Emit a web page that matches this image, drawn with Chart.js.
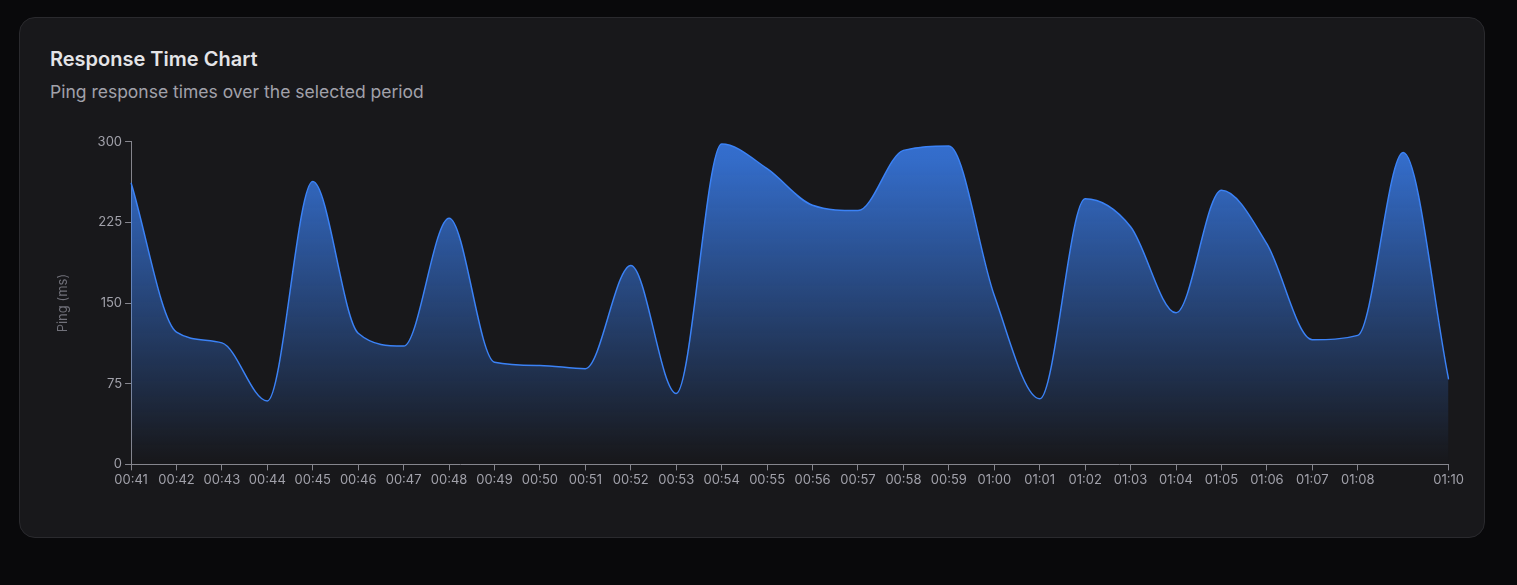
<!DOCTYPE html>
<html>
<head>
<meta charset="utf-8">
<script src="https://cdn.jsdelivr.net/npm/chart.js@4.4.1/dist/chart.umd.min.js"></script>
<style>
  html, body {
    margin: 0;
    padding: 0;
    background: #09090b;
    font-family: Inter, "Noto Sans", sans-serif;
  }
  .card {
    position: absolute;
    left: 19px;
    top: 17px;
    width: 1464px;
    height: 519px;
    background: #18181b;
    border: 1px solid #2a2a2e;
    border-radius: 16px;
  }
  .title {
    position: absolute;
    left: 30px;
    top: 28px;
    margin: 0;
    font-size: 20px;
    line-height: 26px;
    font-weight: 600;
    color: #e4e4e7;
  }
  .subtitle {
    position: absolute;
    left: 30px;
    top: 62px;
    margin: 0;
    font-size: 17.5px;
    line-height: 24px;
    color: #a1a1aa;
  }
  .chart-wrap {
    position: absolute;
    left: 35px;
    top: 113px;
    width: 1411px;
    height: 359px;
  }
</style>
</head>
<body>
<div class="card">
  <h3 class="title">Response Time Chart</h3>
  <p class="subtitle">Ping response times over the selected period</p>
  <div class="chart-wrap"><canvas id="pingChart"></canvas></div>
</div>
<script>
// Minute labels on the x axis
const timeLabels = [
    '00:41', '00:42', '00:43', '00:44', '00:45', '00:46', '00:47', '00:48', '00:49', '00:50',
    '00:51', '00:52', '00:53', '00:54', '00:55', '00:56', '00:57', '00:58', '00:59', '01:00',
    '01:01', '01:02', '01:03', '01:04', '01:05', '01:06', '01:07', '01:08', '01:09', '01:10'
];

// Ping in ms, one per minute
const pingValues = [
    262, 123, 113, 59, 263, 122, 110, 229, 95, 92,
    89, 185, 66, 298, 275, 241, 236, 292, 296, 157,
    61, 247, 221, 141, 255, 205, 116, 120, 290, 79
];

// Labels left out of the axis (no room before the last one)
const skippedLabels = ['01:09'];

// Y axis ticks
const yTicks = [0, 75, 150, 225, 300];

const AXIS_COLOR = '#85858d';
const TICK_TEXT = '#a1a1aa';
const LINE_COLOR = '#3b82f6';

function areaGradient(context) {
    const { ctx, chartArea } = context.chart;
    if (!chartArea) return 'rgba(59, 130, 246, 0.3)';
    const g = ctx.createLinearGradient(0, chartArea.top, 0, chartArea.bottom);
    g.addColorStop(0.0, 'rgba(59, 130, 246, 0.82)');
    g.addColorStop(0.05, 'rgba(59, 130, 246, 0.8)');
    g.addColorStop(0.95, 'rgba(59, 130, 246, 0.03)');
    g.addColorStop(1.0, 'rgba(59, 130, 246, 0)');
    return g;
}

const chart = new Chart(document.getElementById('pingChart').getContext('2d'), {
    type: 'line',
    data: {
        labels: timeLabels,
        datasets: [{
            label: 'Ping (ms)',
            data: pingValues,
            borderColor: LINE_COLOR,
            borderWidth: 1.5,
            pointRadius: 0,
            pointHoverRadius: 0,
            cubicInterpolationMode: 'monotone',
            fill: 'origin',
            backgroundColor: areaGradient
        }]
    },
    options: {
        animation: false,
        responsive: true,
        maintainAspectRatio: false,
        layout: {
            padding: { top: 2, right: 0, bottom: 0, left: 0 }
        },
        plugins: {
            legend: { display: false },
            tooltip: { enabled: false }
        },
        scales: {
            x: {
                type: 'category',
                offset: false,
                border: { display: true, color: AXIS_COLOR, width: 1 },
                grid: {
                    display: true,
                    drawOnChartArea: false,
                    drawTicks: true,
                    tickLength: 6,
                    color: AXIS_COLOR,
                    tickColor: ctx => skippedLabels.includes(timeLabels[ctx.index]) ? 'transparent' : AXIS_COLOR
                },
                ticks: {
                    autoSkip: false,
                    maxRotation: 0,
                    padding: 2,
                    color: TICK_TEXT,
                    font: { family: 'Inter', size: 13 },
                    callback: function (value, index) {
                        const label = timeLabels[index];
                        return skippedLabels.includes(label) ? '' : label;
                    }
                }
            },
            y: {
                min: 0,
                max: 300,
                afterBuildTicks: axis => {
                    axis.ticks = yTicks.map(v => ({ value: v }));
                },
                border: { display: true, color: AXIS_COLOR, width: 1 },
                grid: {
                    display: true,
                    drawOnChartArea: false,
                    drawTicks: true,
                    tickLength: 6,
                    color: AXIS_COLOR
                },
                ticks: {
                    padding: 3,
                    color: TICK_TEXT,
                    font: { family: 'Inter', size: 13 }
                },
                title: {
                    display: true,
                    text: 'Ping (ms)',
                    color: '#71717a',
                    font: { family: 'Inter', size: 13 },
                    padding: { top: 0, bottom: 24 }
                }
            }
        }
    }
});
</script>
</body>
</html>
